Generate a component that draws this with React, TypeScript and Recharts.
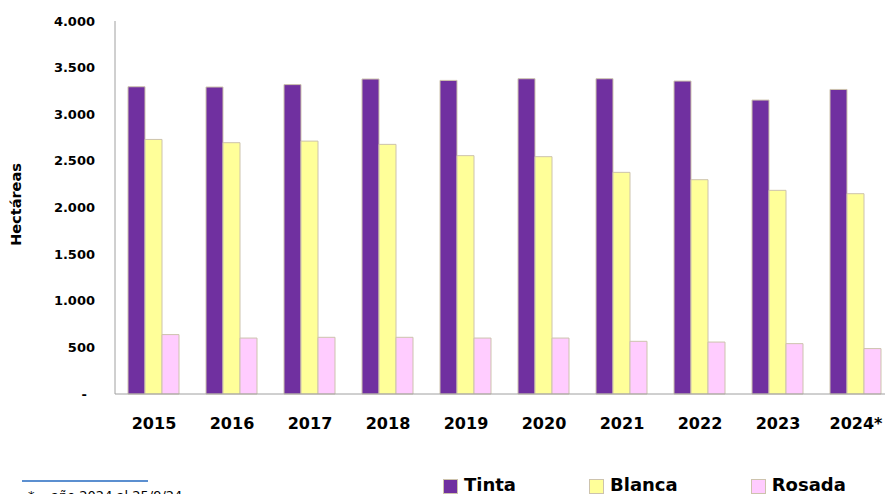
import React from 'react';
import { BarChart, Bar, XAxis, YAxis, Legend } from 'recharts';

const years = ['2015', '2016', '2017', '2018', '2019', '2020', '2021', '2022', '2023', '2024*'];
const tinta = [3295, 3292, 3318, 3378, 3363, 3381, 3381, 3356, 3152, 3266];
const blanca = [2730, 2695, 2712, 2677, 2556, 2545, 2377, 2298, 2184, 2148];
const rosada = [637, 600, 608, 608, 600, 600, 565, 557, 540, 487];
const yTicks = [0, 500, 1000, 1500, 2000, 2500, 3000, 3500, 4000];

const data = years.map((y, i) => ({ year: y, Tinta: tinta[i], Blanca: blanca[i], Rosada: rosada[i] }));

const FONT = '"DejaVu Sans", Verdana, sans-serif';
const colors: Record<string, string> = { Tinta: '#7030a0', Blanca: '#ffff99', Rosada: '#ffccff' };
const STROKE = '#cdc3ad';

const fmt = (v: number) => (v === 0 ? '-' : v.toLocaleString('de-DE'));

const YTick = (props: any) => {
  const { x, y, payload } = props;
  const v = payload.value;
  return (
    <text x={v === 0 ? x - 20 : x - 12} y={y} dy={4.5} textAnchor="end" fontFamily={FONT} fontWeight="bold" fontSize={13} fill="#000">
      {fmt(v)}
    </text>
  );
};

const XTick = (props: any) => {
  const { x, y, payload } = props;
  return (
    <text x={x} y={y} dy={27} textAnchor="middle" fontFamily={FONT} fontWeight="bold" fontSize={16} fill="#000">
      {payload.value}
    </text>
  );
};

const renderLegend = () => {
  const items = ['Tinta', 'Blanca', 'Rosada'];
  return (
    <div style={{ display: 'flex', alignItems: 'center', fontFamily: FONT, fontWeight: 'bold', fontSize: 18, lineHeight: '18px', color: '#000' }}>
      {items.map((k, i) => (
        <div key={k} style={{ display: 'flex', alignItems: 'center', marginRight: i < 2 ? 73 : 0 }}>
          <span style={{ display: 'inline-block', width: 13, height: 13, background: colors[k], border: `1px solid ${STROKE}`, marginRight: 6, marginTop: 3 }} />
          <span>{k}</span>
        </div>
      ))}
    </div>
  );
};

export default function App() {
  return (
    <div style={{ position: 'absolute', left: 0, top: 0, width: 885, height: 494, overflow: 'hidden', background: '#fff' }}>
      <BarChart
        width={900}
        height={494}
        data={data}
        margin={{ top: 21, right: 5, left: 0, bottom: 40 }}
        barCategoryGap={13}
        barGap={0}
      >
        <YAxis
          width={115}
          domain={[0, 4000]}
          ticks={yTicks}
          interval={0}
          axisLine={{ stroke: '#a0a0a0' }}
          tickLine={false}
          tick={<YTick />}
          label={{
            value: 'Hectáreas',
            angle: -90,
            position: 'insideLeft',
            offset: 0,
            dx: 16,
            dy: -3,
            style: { fontFamily: FONT, fontWeight: 'bold', fontSize: 14.5, fill: '#000', textAnchor: 'middle' },
          }}
        />
        <XAxis dataKey="year" height={40} axisLine={{ stroke: '#a0a0a0' }} tickLine={false} tick={<XTick />} interval={0} />
        <Legend
          verticalAlign="bottom"
          content={renderLegend}
          wrapperStyle={{ position: 'absolute', left: 443, top: 476, width: 450, height: 20 }}
        />
        {['Tinta', 'Blanca', 'Rosada'].map((k) => (
          <Bar key={k} dataKey={k} fill={colors[k]} stroke={STROKE} strokeWidth={1} isAnimationActive={false} />
        ))}
      </BarChart>
      <div style={{ position: 'absolute', left: 22, top: 480, width: 126, height: 2, background: '#5b8fd0' }} />
      <div style={{ position: 'absolute', left: 28, top: 488, fontFamily: FONT, fontSize: 13, lineHeight: '15px', whiteSpace: 'pre', color: '#000' }}>
        {'*    año 2024 al 25/9/24'}
      </div>
    </div>
  );
}
